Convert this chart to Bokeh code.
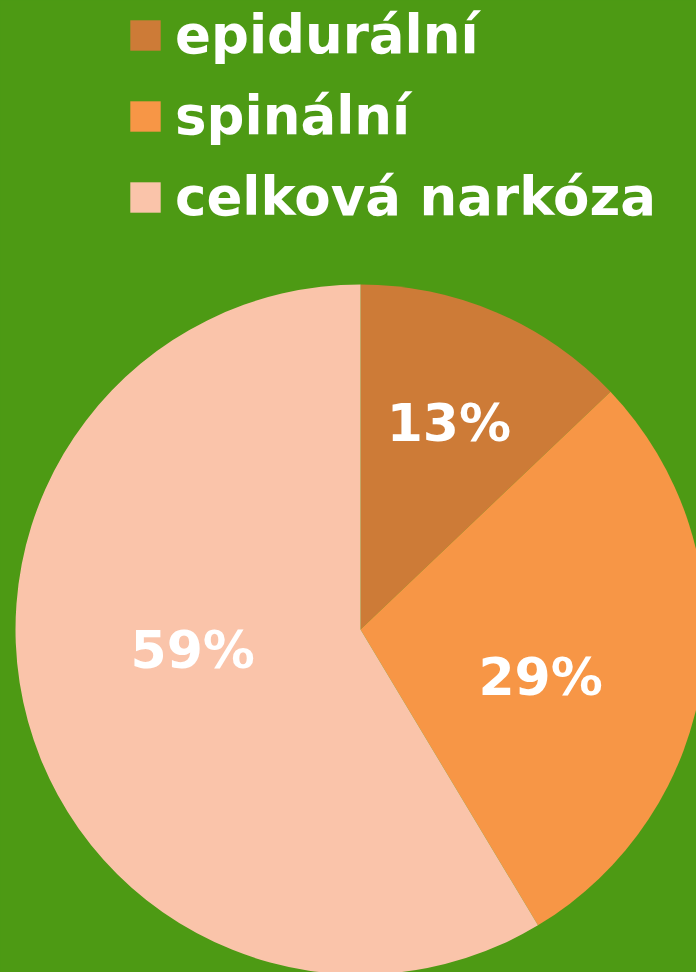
import math
from bokeh.plotting import figure
from bokeh.models import ColumnDataSource, Range1d, Legend, LegendItem, GlobalInlineStyleSheet
from bokeh.embed import file_html
from bokeh.resources import INLINE
from bokeh.core.properties import value

# ---- data ----
categories = ["epidurální", "spinální", "celková narkóza"]
shares = [12.9, 28.5, 58.6]
pct_labels = ["13%", "29%", "59%"]
colors = ["#CD7B37", "#F79646", "#FAC4AA"]

BG = "#4D9A14"
W, H = 696, 972
CX, CY, R = 360, 343, 345
FONT = "DejaVu Sans"

total = sum(shares)
starts, ends, mids = [], [], []
cum = 0.0
for v in shares:
    a0 = math.pi / 2 - 2 * math.pi * cum / total
    cum += v
    a1 = math.pi / 2 - 2 * math.pi * cum / total
    starts.append(a0)
    ends.append(a1)
    mids.append((a0 + a1) / 2)

# label placement (style: radial fraction and angular shift, like manual data-label nudges)
label_r = [0.65, 0.54, 0.49]
label_shift_deg = [0, -7, -8.5]
lx = [CX + R * f * math.cos(m + math.radians(s)) for m, f, s in zip(mids, label_r, label_shift_deg)]
ly = [CY + R * f * math.sin(m + math.radians(s)) for m, f, s in zip(mids, label_r, label_shift_deg)]

p = figure(width=W, height=H, x_range=Range1d(0, W), y_range=Range1d(0, H),
           output_backend="svg", toolbar_location=None, min_border=0,
           background_fill_color=BG, border_fill_color=BG, outline_line_color=None)
p.axis.visible = False
p.grid.visible = False

src = ColumnDataSource(dict(cat=categories, start=starts, end=ends, color=colors))
wr = p.wedge(x=CX, y=CY, radius=R, start_angle="start", end_angle="end",
             direction="clock", fill_color="color", line_color=None, source=src)

lsrc = ColumnDataSource(dict(x=lx, y=ly, text=pct_labels))
p.text(x="x", y="y", text="text", source=lsrc, text_align="center", text_baseline="middle",
       text_font=value(FONT), text_font_style="bold", text_font_size="52px", text_color="white")

items = [LegendItem(label=c, renderers=[wr], index=i) for i, c in enumerate(categories)]
legend = Legend(items=items, location=(126, 745), orientation="vertical",
                glyph_width=38, glyph_height=38, label_standoff=11, spacing=20,
                padding=0, margin=0, border_line_color=None, background_fill_alpha=0,
                label_text_font=FONT, label_text_font_style="bold",
                label_text_font_size="53px", label_text_color="white")
p.add_layout(legend)

p.stylesheets = [GlobalInlineStyleSheet(css="html,body{margin:0;padding:0;background:%s;overflow:hidden;}" % BG)]

open("out.html", "w").write(file_html(p, INLINE))
